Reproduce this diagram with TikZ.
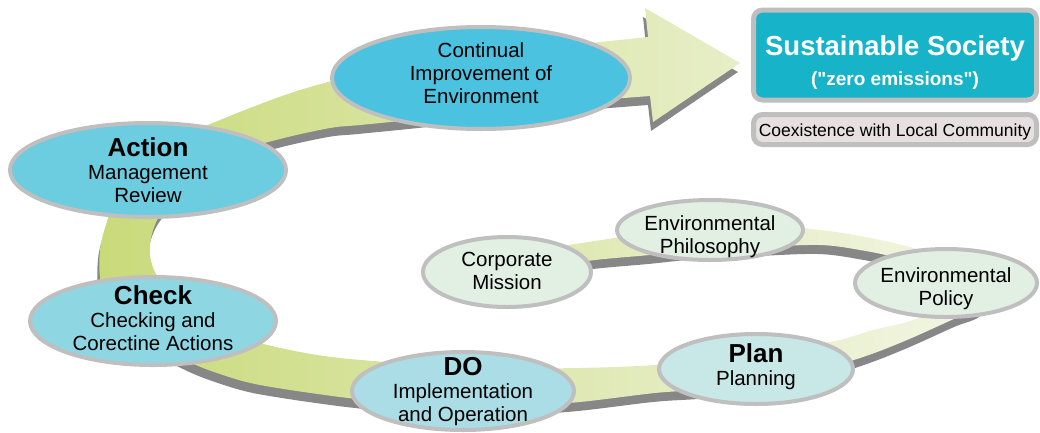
\documentclass[tikz,border=0pt]{standalone}
\usepackage{fontspec}
\setmainfont{Liberation Sans}
\newfontfamily\plainquotes{Liberation Sans}
\usetikzlibrary{shapes.geometric}
\definecolor{ribL}{HTML}{C9DA7A}
\definecolor{ribR}{HTML}{F3F6E6}
\definecolor{shadowc}{HTML}{878787}
\definecolor{rim}{HTML}{BFBFBF}
\definecolor{cA}{HTML}{4BC3E0}
\definecolor{cB}{HTML}{6CCCE0}
\definecolor{cC}{HTML}{8FD6E3}
\definecolor{cD}{HTML}{ABDDE6}
\definecolor{cE}{HTML}{C8E8E8}
\definecolor{cF}{HTML}{E2F0E4}
\definecolor{boxc}{HTML}{17B3C9}
\definecolor{coexc}{HTML}{E6E0E0}
\newcommand\ribbonpath{plot[smooth,tension=0.55] coordinates {(470,258) (540,249) (595,241) (660,231) (710,226) (770,226) (820,230) (860,236) (910,247) (958,263) (990,285) (982,307) (956,318) (907,340) (863,357) (800,376) (750,386) (700,390) (655,393) (580,402) (520,406) (460,407) (400,403) (340,397) (260,385) (220,374) (185,360) (130,330) (103,290) (100,250) (110,212) (122,177) (150,146) (200,128) (250,108) (300,90) (360,74) (420,62) (480,54) (540,48) (600,42) (648,37)} -- (645,8) -- (740,63) -- (653,122) -- plot[smooth,tension=0.55] coordinates {(650,96) (600,100) (540,106) (480,112) (420,119) (360,125) (330,128) (280,139) (230,154) (190,182) (160,215) (150,245) (155,272) (180,305) (220,330) (260,343) (300,352) (340,358) (400,363) (460,366) (520,368) (580,368) (655,365) (710,358) (760,352) (800,346) (840,340) (873,330) (907,322) (930,312) (938,296) (925,275) (895,258) (860,250) (820,245) (760,247) (700,250) (650,255) (595,260) (540,268) (480,274)} -- cycle}
\newcommand\headword[1]{{\bfseries\fontsize{26}{23}\selectfont #1}}
\begin{document}
\begin{tikzpicture}[x=1pt,y=-1pt,
  ell/.style={ellipse, draw=rim, line width=4pt, inner sep=0pt},
  txt/.style={anchor=base, align=center, inner sep=0pt, font=\fontsize{20.5}{23}\selectfont},
  boxst/.style={draw=rim, line width=5pt, rounded corners=9pt, inner sep=0pt}
]
\useasboundingbox (0,0) rectangle (1040,432);
% ribbon shadow and ribbon
\fill[shadowc, shift={(-2,9)}] \ribbonpath;
\shade[left color=ribL, right color=ribR] \ribbonpath;
% ellipses
\node[ell, fill=cA, minimum width=298pt, minimum height=102pt] (cont) at (481,78) {};
\node[ell, fill=cB, minimum width=276pt, minimum height=94pt] (act) at (148,170) {};
\node[ell, fill=cC, minimum width=246pt, minimum height=88pt] (chk) at (153,321) {};
\node[ell, fill=cD, minimum width=222pt, minimum height=78pt] (do) at (463,391) {};
\node[ell, fill=cE, minimum width=194pt, minimum height=70pt] (plan) at (756,369) {};
\node[ell, fill=cF, minimum width=168pt, minimum height=70pt] (cm) at (507,272) {};
\node[ell, fill=cF, minimum width=186pt, minimum height=60pt] (ep) at (710,230) {};
\node[ell, fill=cF, minimum width=182pt, minimum height=68pt] (pol) at (946,283) {};
% ellipse texts (anchor base = baseline of the last line)
\node[txt] (contT) at (481,103) {Continual\\Improvement of\\Environment};
\node[txt] (actT) at (148,202) {\headword{Action}\\Management\\Review};
\node[txt] (chkT) at (153,350) {\headword{Check}\\Checking and\\Corectine Actions};
\node[txt] (doT) at (463,421) {\headword{DO}\\Implementation\\and Operation};
\node[txt] (planT) at (756,385) {\headword{Plan}\\Planning};
\node[txt] (cmT) at (507,289) {Corporate\\Mission};
\node[txt] (epT) at (710,253) {Environmental\\Philosophy};
\node[txt] (polT) at (946,305) {Environmental\\Policy};
% boxes
\node[boxst, fill=boxc, minimum width=283pt, minimum height=90pt] (sus) at (895,55) {};
\node[anchor=base, inner sep=0pt, white, font=\bfseries\fontsize{27.5}{30}\selectfont] (susT) at (895,55) {Sustainable Society};
\node[anchor=base, inner sep=0pt, white, font=\plainquotes\bfseries\fontsize{19}{22}\selectfont] (zeroT) at (895,85) {("zero emissions")};
\node[boxst, fill=coexc, minimum width=283pt, minimum height=30pt] (coex) at (895,129.5) {};
\node[anchor=base, inner sep=0pt, font=\fontsize{17.5}{20}\selectfont] (coexT) at (895,136) {Coexistence with Local Community};
\end{tikzpicture}
\end{document}
